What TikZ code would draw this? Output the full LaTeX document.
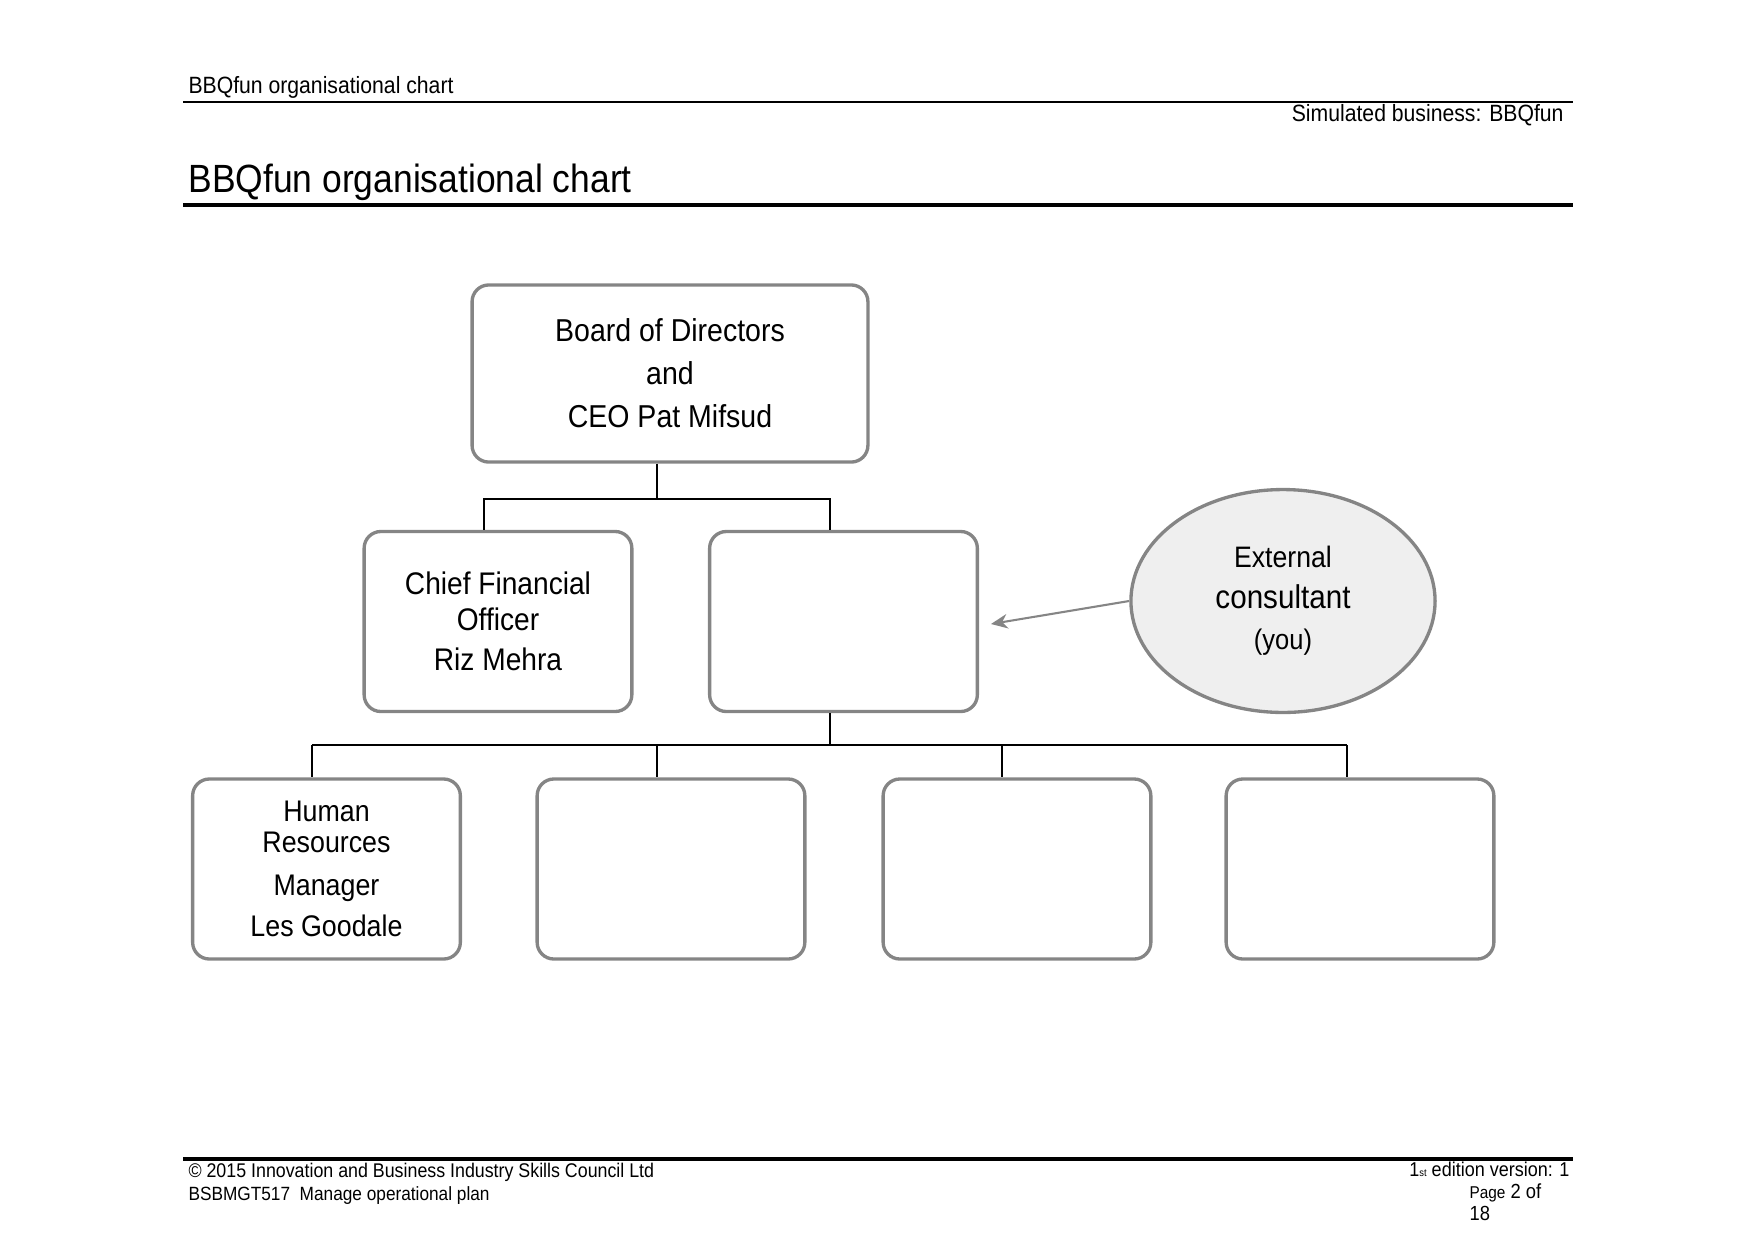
\documentclass[tikz,border=0pt]{standalone}
\usepackage{fontspec}
\setmainfont[FakeStretch=0.9]{Liberation Sans}
\usetikzlibrary{shapes.geometric,arrows.meta}
\definecolor{boxgray}{HTML}{858585}
\definecolor{ellfill}{HTML}{EFEFEF}
\newcommand\sz[2]{\fontsize{#1}{#2}\selectfont}

\begin{document}
\begin{tikzpicture}[x=0.48pt, y=-0.48pt, line width=0.5pt,
    lab/.style={inner sep=0pt, anchor=base west},
    post/.style={draw=boxgray, line width=1.6pt, rounded corners=8pt, fill=white,
      minimum width=128.5pt, minimum height=86.4pt, inner sep=0pt, align=center,
      font=\sz{15}{17.2}},
    conn/.style={line width=1.05pt},
    connthin/.style={line width=0.55pt},
    pointer/.style={draw=boxgray, line width=1pt,
      -{Stealth[length=8pt,width=7pt,fill=boxgray]}}]
  \useasboundingbox (0,0) rectangle (1754,1242);
  % row centres
  \def\yT{373.5} \def\yM{621.5} \def\yB{869}
  % ---- page head -----------------------------------------------------
  \node[lab, font=\sz{11.3}{13}] (hdr) at (188,93) {BBQfun organisational chart};
  \draw[line width=1pt] (183,102) -- (1573,102);
  \node[lab, anchor=base east, font=\sz{11.3}{13}] (sim) at (1564,121)
    {Simulated business: BBQfun};
  \node[lab, font=\sz{18.9}{22}] (title) at (188,192) {BBQfun organisational chart};
  \draw[line width=1.6pt] (183,205) -- (1573,205);
  % ---- boxes ---------------------------------------------------------
  \node[post, minimum width=190pt, minimum height=85pt, font=\sz{15.2}{20.6}]
    (board) at (670,\yT) {Board of Directors\\and\\CEO Pat Mifsud};
  \node[post] (cfo) at (498,\yM) {Chief Financial\\Officer\\[2.1pt]Riz Mehra};
  \node[post] (mid) at (843.5,\yM) {};
  \node[ellipse, draw=boxgray, fill=ellfill, line width=1.6pt, inner sep=0pt,
    minimum width=146pt, minimum height=107pt, align=center, font=\sz{14.2}{19.6}]
    (ell) at (1283,601)
    {External\\{\fontsize{15.8}{19.6}\selectfont consultant}\\{\fontsize{13.6}{19.6}\selectfont (you)}};
  \node[post, font=\sz{14.3}{14.9}] (hr) at (326.5,\yB)
    {Human\\Resources\\[5.5pt]Manager\\[5pt]Les Goodale};
  \node[post] (b2) at (671,\yB) {};
  \node[post] (b3) at (1017,\yB) {};
  \node[post] (b4) at (1360,\yB) {};
  % ---- connectors ----------------------------------------------------
  \coordinate (j1) at (657,499);
  \coordinate (j2) at (830,745);
  \draw[connthin] (657,0 |- board.south) -- (j1);
  \draw[conn] (484,0 |- cfo.north) |- (j1) -| (830,0 |- mid.north);
  \draw[conn] (830,0 |- mid.south) -- (j2);
  \draw[conn] (312,0 |- j2) -- (1347,0 |- j2);
  \foreach \n/\x/\w in {hr/312/conn, b2/657/connthin, b3/1002/connthin, b4/1347/connthin}
    \draw[\w] (\x,0 |- j2) -- (\x,0 |- \n.north);
  \coordinate (tip) at (991,624);
  \draw[pointer] (ell.west) -- (tip);
  % ---- page foot -----------------------------------------------------
  \draw[line width=1.6pt] (183,1159) -- (1573,1159);
  \node[lab, font=\sz{9.5}{11}] (copy) at (188,1177)
    {© 2015 Innovation and Business Industry Skills Council Ltd};
  \node[lab, font=\sz{9.2}{11}] (unit) at (188,1200)
    {BSBMGT517\ \ Manage operational plan};
  \node[lab, anchor=base east, font=\sz{9.6}{11}] (ed) at (1570,1176)
    {1{\fontsize{5}{6}\selectfont st} edition version: 1};
  \node[lab, font=\sz{9.8}{11}] (pg) at (1469,1198)
    {{\fontsize{8.2}{10}\selectfont Page} 2 of};
  \node[lab, font=\sz{9.8}{11}] (pgn) at (1469,1220) {18};
\end{tikzpicture}
\end{document}
